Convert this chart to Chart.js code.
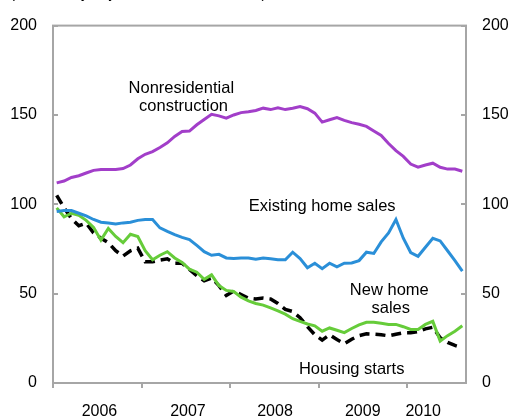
<!DOCTYPE html>
<html>
<head>
<meta charset="utf-8">
<script src="https://cdn.jsdelivr.net/npm/chart.js@4"></script>
<style>
  html, body { margin: 0; padding: 0; background: #fff; }
  #wrap { position: relative; width: 511px; height: 418px; overflow: hidden; }
  #note { position: absolute; left: 10px; top: -15px; font: 15px "Liberation Sans", Arial, sans-serif; line-height: 15px; color: #000; white-space: nowrap; }
  canvas { display: block; }
</style>
</head>
<body>
<div id="wrap">
  <div id="note">(Seasonally adjusted, Jan 2006 = 100)</div>
  <canvas id="chart" width="511" height="418"></canvas>
</div>
<script>
'use strict';

// monthly, Jan 2006 – Aug 2010
const MONTH_COUNT = 56;
const YEAR_STARTS = [0, 12, 24, 36, 48];
const YEAR_LABELS = ['2006', '2007', '2008', '2009', '2010'];
const YEAR_LABEL_AT = [6.3, 18.3, 30.1, 42, 50.2];
const Y_TICKS = [0, 50, 100, 150, 200];

const NONRESIDENTIAL = [
  112, 113, 115, 116, 117.5, 119, 119.5, 119.5, 119.5, 120, 122, 125.5,
  128, 129.5, 131.8, 134.4, 138, 140.7, 141, 144.5, 147.5, 150.4, 149.5, 148.2,
  150, 151.3, 151.8, 152.5, 153.8, 153, 154, 153, 153.8, 154.7, 153.5, 151,
  146, 147.3, 148.5, 147, 145.7, 144.8, 143.6, 141, 138.5, 134, 130, 126.8,
  122.5, 120.8, 122, 123, 120.7, 119.7, 119.7, 118.5
];
const EXISTING_HOME_SALES = [
  96, 96.5, 96.5, 95, 93.5, 91.5, 90, 89.5, 89, 89.6, 90, 91,
  91.5, 91.5, 86.8, 84.8, 83, 81.5, 80.3, 77, 73.5, 71.5, 72, 70,
  69.7, 70, 70, 69.2, 70, 69.5, 69, 69, 73.2, 69.6, 64.5, 67,
  64, 67, 65, 67, 67.2, 68.5, 73.2, 72.5, 79, 84, 91.5, 81,
  73, 70.9, 76, 81, 79.5, 74, 68.5, 62.6
];
const NEW_HOME_SALES = [
  98, 93, 95, 93.8, 91, 87, 80, 86.5, 82, 78.5, 83.2, 82,
  74, 69, 71.5, 73.5, 70, 67.5, 63.7, 62, 58, 60.5, 54.5, 51.8,
  51.2, 48, 46, 44.5, 43.6, 42, 40.3, 38.5, 36, 34.5, 33, 32,
  29, 30.8, 29.5, 28.2, 30.5, 32.5, 34, 34, 33.4, 32.8, 32.8, 31.5,
  30, 30, 32.8, 34.5, 23.5, 26.5, 29, 32
];
const HOUSING_STARTS = [
  105, 98, 92, 88, 89.5, 84, 81, 78.5, 74, 71, 74, 75.5,
  67.8, 67.8, 68.8, 69.5, 67, 67, 63.5, 60, 57.2, 58.8, 54.5, 49,
  51.5, 49.5, 47.5, 47, 47.5, 47, 44.5, 41.2, 40, 36.5, 31.5, 27,
  24, 27, 24.3, 22, 24.5, 26.5, 27.5, 27.3, 27, 26.4, 27.3, 28.1,
  28.1, 28.8, 30.3, 31.2, 25.3, 22.7, 21, 19.7
];

// series labels, placed in data units (x = month index, y = index value)
const SERIES_LABELS = [
  { text: 'Nonresidential', x: 17.4, y: 162.1 },
  { text: 'construction', x: 17.7, y: 152.1 },
  { text: 'Existing home sales', x: 36.5, y: 96.4 },
  { text: 'New home', x: 45.6, y: 49 },
  { text: 'sales', x: 45.8, y: 39 },
  { text: 'Housing starts', x: 40.5, y: 5 }
];

const FONT = '"Liberation Sans", Arial, sans-serif';
const FRAME = '#a6a6a6';

function toPoints(values) {
  return values.map((v, i) => ({ x: i + 0.5, y: v }));
}

// frame, inward tick marks and series labels
const decorations = {
  id: 'decorations',
  beforeDatasetsDraw(chart) {
    const { ctx, chartArea: a, scales } = chart;
    ctx.save();
    ctx.strokeStyle = FRAME;
    ctx.lineWidth = 2;
    ctx.strokeRect(a.left, a.top, a.right - a.left, a.bottom - a.top);
    ctx.beginPath();
    Y_TICKS.forEach(v => {
      const y = Math.round(scales.y.getPixelForValue(v));
      ctx.moveTo(a.left, y); ctx.lineTo(a.left + 5, y);
      ctx.moveTo(a.right, y); ctx.lineTo(a.right - 5, y);
    });
    YEAR_STARTS.forEach(v => {
      const x = Math.round(scales.x.getPixelForValue(v));
      ctx.moveTo(x, a.bottom); ctx.lineTo(x, a.bottom + 5);
    });
    ctx.stroke();
    ctx.restore();
  },
  afterDatasetsDraw(chart) {
    const { ctx, scales } = chart;
    ctx.save();
    ctx.fillStyle = '#000';
    ctx.font = '16.5px ' + FONT;
    ctx.textAlign = 'center';
    ctx.textBaseline = 'alphabetic';
    SERIES_LABELS.forEach(l => {
      ctx.fillText(l.text, scales.x.getPixelForValue(l.x), scales.y.getPixelForValue(l.y));
    });
    ctx.restore();
  }
};

const yAxis = (position, width) => ({
  type: 'linear',
  position: position,
  min: 0,
  max: 200,
  ticks: { stepSize: 50, color: '#000', font: { size: 16, family: FONT }, padding: 16 },
  grid: { display: false, drawTicks: false },
  border: { display: false },
  afterFit: s => { s.width = width; }
});

new Chart(document.getElementById('chart'), {
  type: 'line',
  data: {
    datasets: [
      { label: 'Nonresidential construction', data: toPoints(NONRESIDENTIAL), borderColor: '#a23ec9', borderWidth: 3 },
      { label: 'Existing home sales', data: toPoints(EXISTING_HOME_SALES), borderColor: '#2a8fd8', borderWidth: 3 },
      { label: 'New home sales', data: toPoints(NEW_HOME_SALES), borderColor: '#66cc3a', borderWidth: 3 },
      { label: 'Housing starts', data: toPoints(HOUSING_STARTS), borderColor: '#000', borderWidth: 3.5, borderDash: [10, 6] }
    ]
  },
  options: {
    responsive: false,
    animation: false,
    events: [],
    layout: { padding: { top: 24, left: 0, right: 0, bottom: 0 } },
    elements: { point: { radius: 0 }, line: { tension: 0, fill: false, borderCapStyle: 'butt' } },
    plugins: { legend: { display: false }, tooltip: { enabled: false } },
    scales: {
      x: {
        type: 'linear',
        min: 0,
        max: MONTH_COUNT,
        afterBuildTicks: s => { s.ticks = YEAR_LABEL_AT.map(v => ({ value: v })); },
        ticks: {
          autoSkip: false,
          maxRotation: 0,
          color: '#000',
          font: { size: 16, family: FONT },
          padding: 19,
          callback: (v, i) => YEAR_LABELS[i]
        },
        grid: { display: false, drawTicks: false },
        border: { display: false },
        afterFit: s => { s.height = 35; }
      },
      y: yAxis('left', 53),
      y2: yAxis('right', 45)
    }
  },
  plugins: [decorations]
});
</script>
</body>
</html>
